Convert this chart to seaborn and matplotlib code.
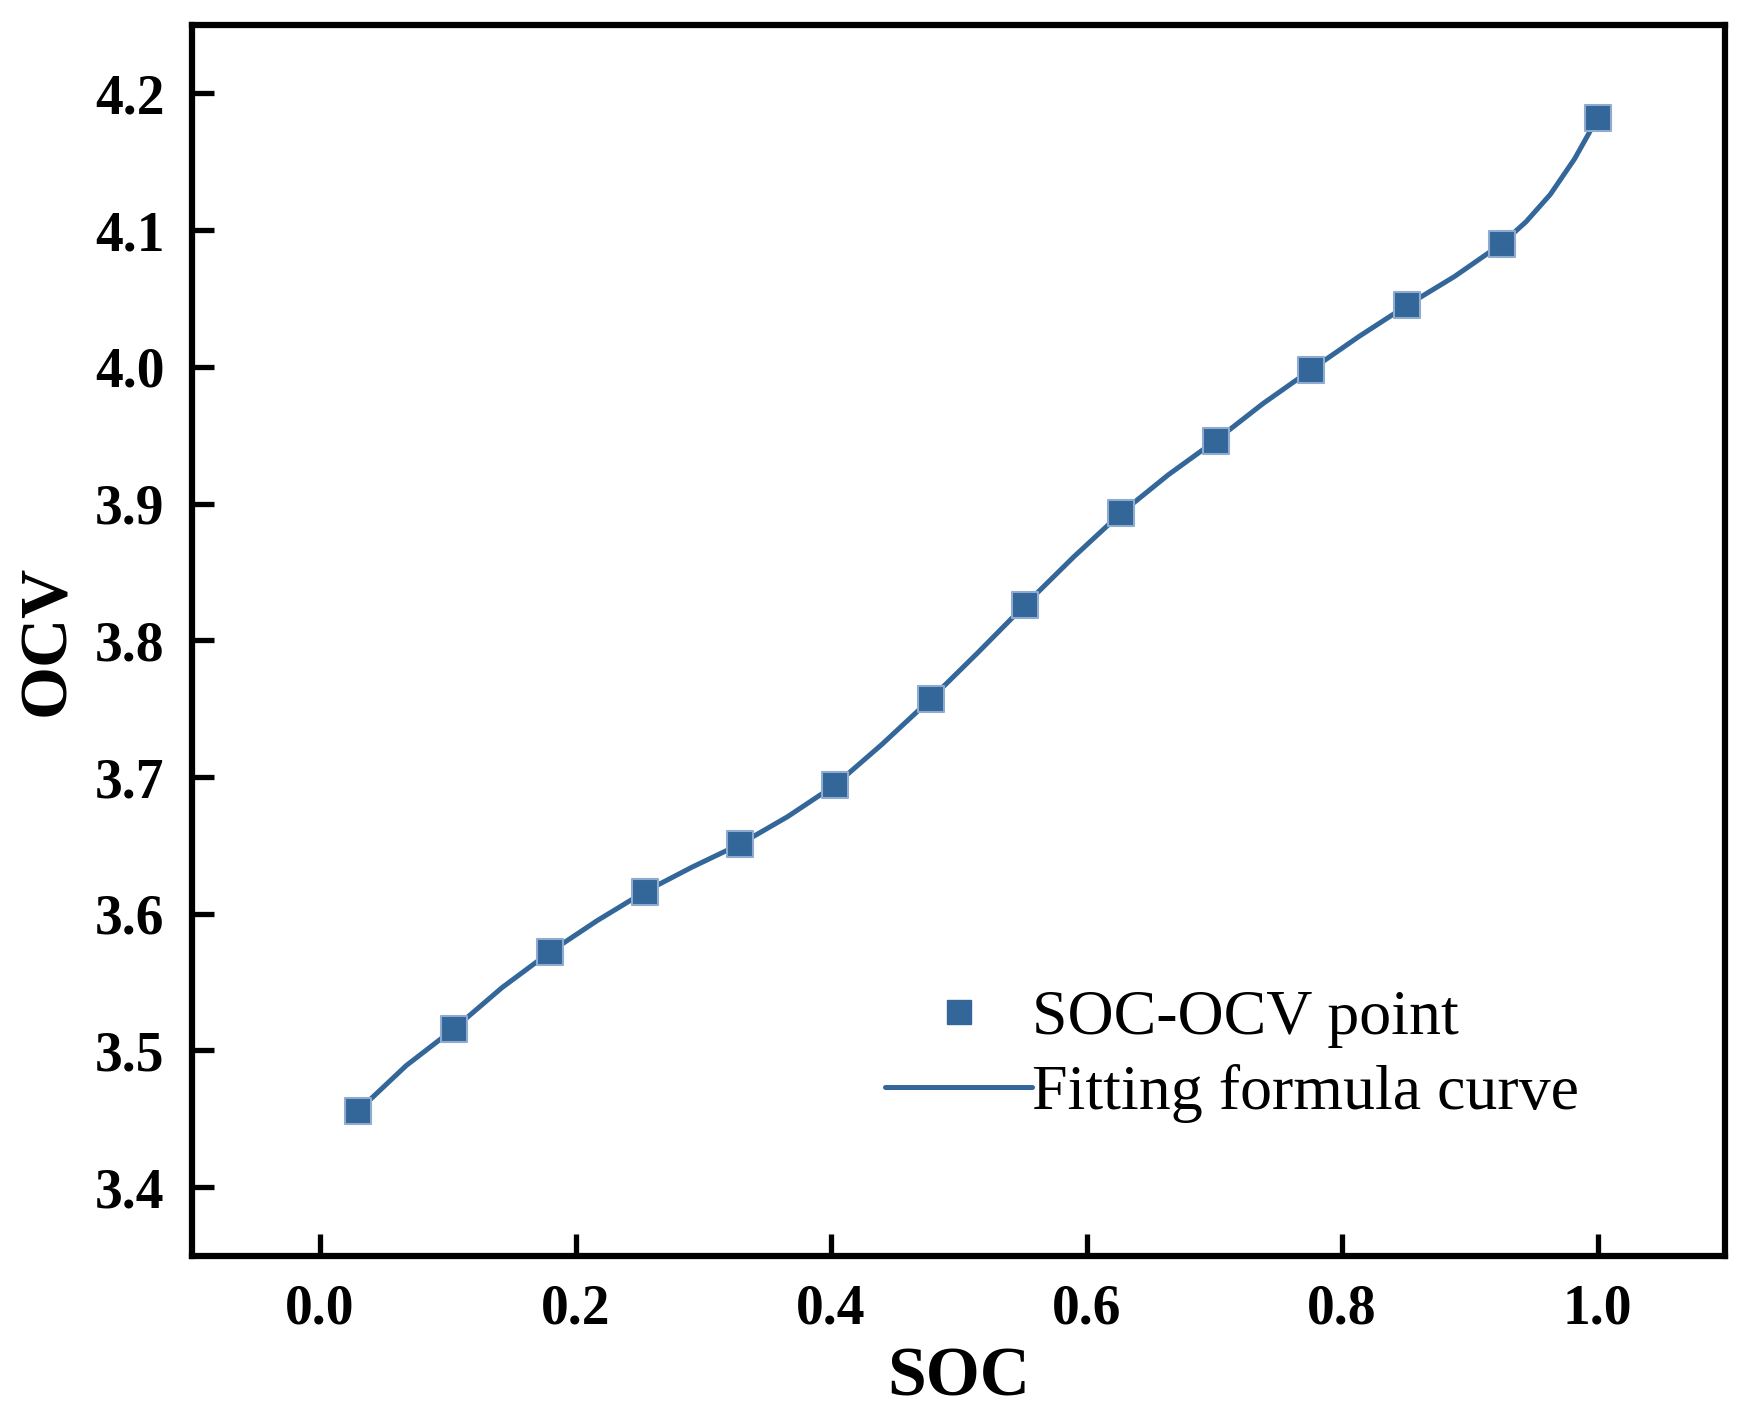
import matplotlib
matplotlib.use("Agg")
import matplotlib.pyplot as plt
import seaborn as sns
import pandas as pd
from matplotlib.lines import Line2D

# Measured SOC-OCV points
soc_points = [0.030, 0.105, 0.180, 0.254, 0.329, 0.403, 0.478, 0.552,
              0.627, 0.701, 0.776, 0.851, 0.925, 1.000]
ocv_points = [3.456, 3.516, 3.572, 3.616, 3.651, 3.694, 3.757, 3.826,
              3.893, 3.946, 3.998, 4.045, 4.090, 4.182]

# Fitting formula curve
soc_curve = [0.030, 0.0675, 0.105, 0.1425, 0.180, 0.217, 0.254, 0.291,
             0.329, 0.366, 0.403, 0.440, 0.478, 0.515, 0.552, 0.590,
             0.627, 0.664, 0.701, 0.738, 0.776, 0.813, 0.851, 0.888,
             0.925, 0.944, 0.963, 0.982, 1.000]
ocv_curve = [3.456, 3.489, 3.516, 3.546, 3.572, 3.595, 3.616, 3.634,
             3.651, 3.671, 3.694, 3.724, 3.757, 3.791, 3.826, 3.861,
             3.893, 3.921, 3.946, 3.973, 3.998, 4.022, 4.045, 4.066,
             4.090, 4.106, 4.126, 4.152, 4.182]

x_ticks = [0.0, 0.2, 0.4, 0.6, 0.8, 1.0]
y_ticks = [3.4, 3.5, 3.6, 3.7, 3.8, 3.9, 4.0, 4.1, 4.2]

label_points = "SOC-OCV point"
label_curve = "Fitting formula curve"
x_label = "SOC"
y_label = "OCV"

sns.set_theme(style="ticks")
plt.rcParams["font.family"] = ["Liberation Serif", "DejaVu Serif"]
plt.rcParams["text.color"] = "black"
plt.rcParams["axes.labelcolor"] = "black"
plt.rcParams["xtick.color"] = "black"
plt.rcParams["ytick.color"] = "black"
plt.rcParams["lines.solid_capstyle"] = "round"

color = "#336699"

df_pts = pd.DataFrame({"SOC": soc_points, "OCV": ocv_points})
df_cur = pd.DataFrame({"SOC": soc_curve, "OCV": ocv_curve})

fig = plt.figure(figsize=(17.48, 14.17), dpi=100)
ax = fig.add_axes([0.110, 0.1139, 0.877, 0.8685])

sns.lineplot(data=df_cur, x="SOC", y="OCV", ax=ax, color=color, linewidth=3.6,
             estimator=None, sort=False, zorder=2)
sns.scatterplot(data=df_pts, x="SOC", y="OCV", ax=ax, color=color, marker="s",
                s=330, edgecolor="#8fabcf", linewidth=1.5, zorder=3)

ax.set_xlim(-0.1, 1.1)
ax.set_ylim(3.35, 4.25)
ax.set_xticks(x_ticks)
ax.set_yticks(y_ticks)
ax.set_xticklabels([f"{v:.1f}" for v in x_ticks])
ax.set_yticklabels([f"{v:.1f}" for v in y_ticks])

for sp in ax.spines.values():
    sp.set_visible(True)
    sp.set_linewidth(4.5)
    sp.set_color("black")

ax.tick_params(axis="both", which="major", direction="in", length=16, width=3.8,
               colors="black", labelcolor="black", labelsize=40, pad=20,
               top=False, right=False)
for lab in ax.get_xticklabels() + ax.get_yticklabels():
    lab.set_fontweight("bold")
    lab.set_color("black")

ax.set_xlabel(x_label, fontsize=50, fontweight="bold", labelpad=8, color="black")
ax.set_ylabel(y_label, fontsize=49, fontweight="bold", labelpad=12, color="black")

handles = [
    Line2D([], [], linestyle="none", marker="s", markersize=17,
           markerfacecolor=color, markeredgecolor=color),
    Line2D([], [], color=color, linewidth=3.6),
]
leg = ax.legend(handles, [label_points, label_curve], loc="center left",
                bbox_to_anchor=(0.452, 0.162), frameon=False, fontsize=46,
                handlelength=2.3, handletextpad=0.0, labelspacing=0.25,
                borderpad=0, borderaxespad=0)
for t in leg.get_texts():
    t.set_color("black")

fig.savefig("out.png", dpi=100)
